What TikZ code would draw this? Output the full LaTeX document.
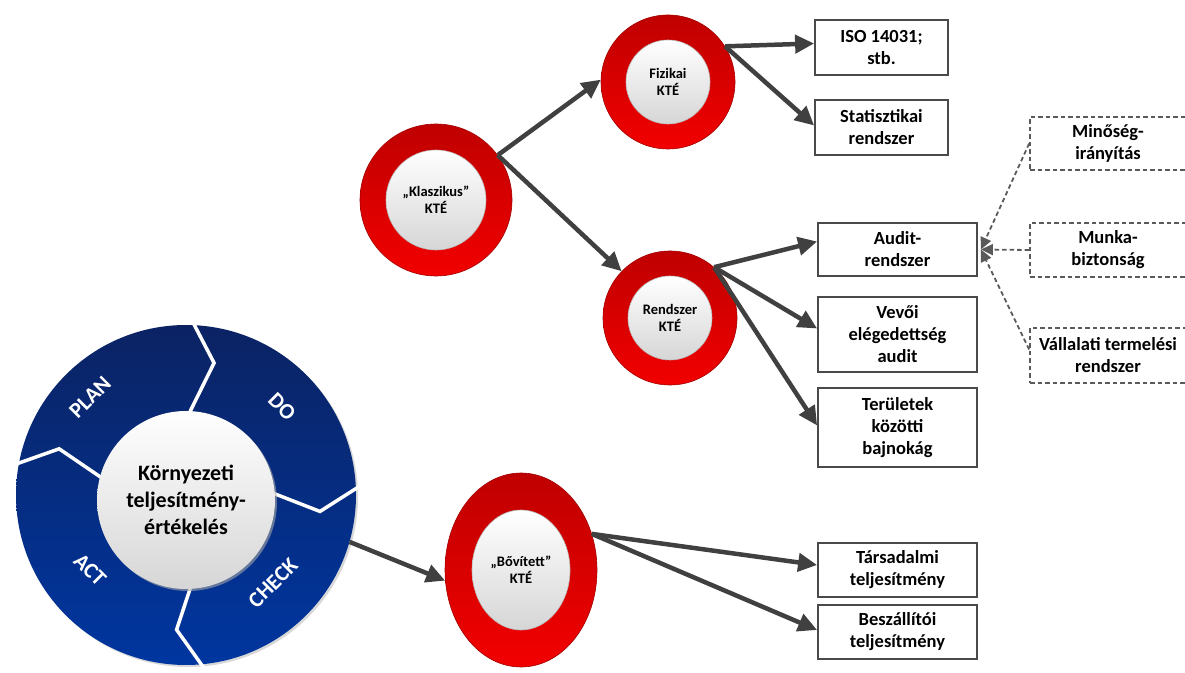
\documentclass[tikz,border=0pt]{standalone}
\usepackage{fontspec}
\setmainfont{Carlito}
\usetikzlibrary{arrows.meta,shapes.geometric,calc}

\definecolor{arrowgray}{HTML}{404040}
\definecolor{boxgray}{HTML}{4A4A4A}
\definecolor{dashgray}{HTML}{5A5A5A}
\definecolor{ringtop}{HTML}{BF0000}
\definecolor{ringbot}{HTML}{F20000}
\definecolor{ringedge}{HTML}{A00000}
\definecolor{innerbot}{HTML}{D6D6D6}
\definecolor{pdcatop}{HTML}{0B2363}
\definecolor{pdcabot}{HTML}{0036A0}

\tikzset{
  ringouter/.style={circle, inner sep=0pt, top color=ringtop, bottom color=ringbot,
    draw=ringedge, line width=0.6pt},
  ringinner/.style={circle, inner sep=0pt, top color=white, bottom color=innerbot,
    draw=gray!55, line width=0.6pt, align=center, text=black,
    font=\bfseries\fontsize{14.5}{17}\selectfont},
  ellouter/.style={ellipse, inner sep=0pt, top color=ringtop, bottom color=ringbot,
    draw=ringedge, line width=0.6pt},
  ellinner/.style={ellipse, inner sep=0pt, top color=white, bottom color=innerbot,
    draw=gray!55, line width=0.6pt, align=center, text=black,
    font=\bfseries\fontsize{14.5}{17}\selectfont},
  infobox/.style={draw=boxgray, line width=1.8pt, fill=white, align=center,
    inner sep=0pt, font=\bfseries\fontsize{18.5}{22}\selectfont},
  dashbox/.style={draw=dashgray, line width=1.7pt, dash pattern=on 4.5pt off 3pt,
    fill=white, align=center, inner sep=0pt,
    font=\bfseries\fontsize{18.5}{22}\selectfont},
  conn/.style={draw=arrowgray, line width=4.5pt,
    -{Triangle[length=19pt,width=18pt]}},
  dconn/.style={draw=dashgray, line width=1.8pt, dash pattern=on 4.5pt off 3pt,
    -{Triangle[length=12pt,width=11pt]}},
  pdcalabel/.style={text=white, inner sep=1pt, font=\bfseries\fontsize{22}{26}\selectfont},
}

\begin{document}
\begin{tikzpicture}[x=1pt,y=1pt]
\useasboundingbox (0,0) rectangle (1185,672);

% ---------- PDCA cycle ----------
\fill[black!30, opacity=0.5] (188,175) circle (170);
\node[circle, inner sep=0pt, minimum size=340pt, top color=pdcatop, bottom color=pdcabot]
  (pdca) at (186,177) {};
\foreach \a in {89,4,-83,171}
  \draw[white, line width=3.5pt, line join=miter]
    ($(pdca.center)+(\a:78)$) -- ($(pdca.center)+({\a-11}:135)$) -- ($(pdca.center)+(\a:180)$);
\fill[black!35, opacity=0.6] (188,170) circle (89);
\shade[top color=white, bottom color=innerbot] (186,172) circle (89);
\node[align=center, inner sep=0pt, font=\bfseries\fontsize{22}{27}\selectfont]
  (core) at (186,172) {Környezeti\\teljesítmény-\\értékelés};
\node[pdcalabel, rotate=45]  (plan)  at (90,275)  {PLAN};
\node[pdcalabel, rotate=-45] (do)    at (282,265) {DO};
\node[pdcalabel, rotate=45]  (check) at (273,89)  {CHECK};
\node[pdcalabel, rotate=-45] (act)   at (90,102)  {ACT};

% ---------- KTÉ rings ----------
\node[ringouter, minimum size=152pt] (klas) at (436,472) {};
\node[ringinner, minimum size=100pt] (klasin) at (klas) {„Klaszikus”\\KTÉ};

\node[ringouter, minimum size=134pt] (fiz) at (668,590) {};
\node[ringinner, minimum size=84pt] (fizin) at (fiz) {Fizikai\\KTÉ};

\node[ringouter, minimum size=134pt] (rend) at (670,354) {};
\node[ringinner, minimum size=84pt] (rendin) at (rend) {Rendszer\\KTÉ};

\node[ellouter, minimum width=152pt, minimum height=194pt] (bov) at (521,102) {};
\node[ellinner, minimum width=98pt, minimum height=120pt] (bovin) at (bov) {„Bővített”\\KTÉ};

% ---------- boxes ----------
\node[infobox, minimum width=133pt, minimum height=55pt] (iso)   at (881.5,624.5) {ISO 14031;\\stb.};
\node[infobox, minimum width=133pt, minimum height=55pt] (stat)  at (881.5,544.5) {Statisztikai\\rendszer};
\node[infobox, minimum width=159pt, minimum height=53pt] (audit) at (897.5,422.5) {Audit-\\rendszer};
\node[infobox, minimum width=159pt, minimum height=75pt] (vevo)  at (897.5,337.5) {Vevői\\elégedettség\\audit};
\node[infobox, minimum width=159pt, minimum height=79pt] (terul) at (897.5,244.5) {Területek\\közötti\\bajnokág};
\node[infobox, minimum width=159pt, minimum height=54pt] (tars)  at (897.5,102) {Társadalmi\\teljesítmény};
\node[infobox, minimum width=159pt, minimum height=54pt] (besz)  at (897.5,40) {Beszállítói\\teljesítmény};

\node[dashbox, minimum width=156pt, minimum height=53pt] (minos) at (1108,528.5) {Minőség-\\irányítás};
\node[dashbox, minimum width=156pt, minimum height=54pt] (munka) at (1108,422) {Munka-\\biztonság};
\node[dashbox, minimum width=156pt, minimum height=55pt] (vall)  at (1108,316.5) {Vállalati termelési\\rendszer};

% ---------- connectors ----------
\draw[conn] (klas.36) -- (fiz.178);
\draw[conn] (klas.36) -- (rend.136);
\draw[conn] (fiz.32) -- ([yshift=4pt]iso.west);
\draw[conn] (fiz.32) -- ([yshift=2pt]stat.west);
\draw[conn] (rend.49) -- ([yshift=8pt]audit.west);
\draw[conn] (rend.49) -- ([yshift=6pt]vevo.west);
\draw[conn] (rend.49) -- ([yshift=2pt]terul.west);
\draw[conn] (pdca.-16) -- (bov.188);
\draw[conn] (bov.27) -- ([yshift=5pt]tars.west);
\draw[conn] (bov.27) -- ([yshift=2pt]besz.west);

\draw[dconn] (minos.west) -- ([xshift=3pt]audit.east);
\draw[dconn] (munka.west) -- ([xshift=3pt]audit.east);
\draw[dconn] ([yshift=6pt]vall.west) -- ([xshift=3pt]audit.east);
\end{tikzpicture}
\end{document}
